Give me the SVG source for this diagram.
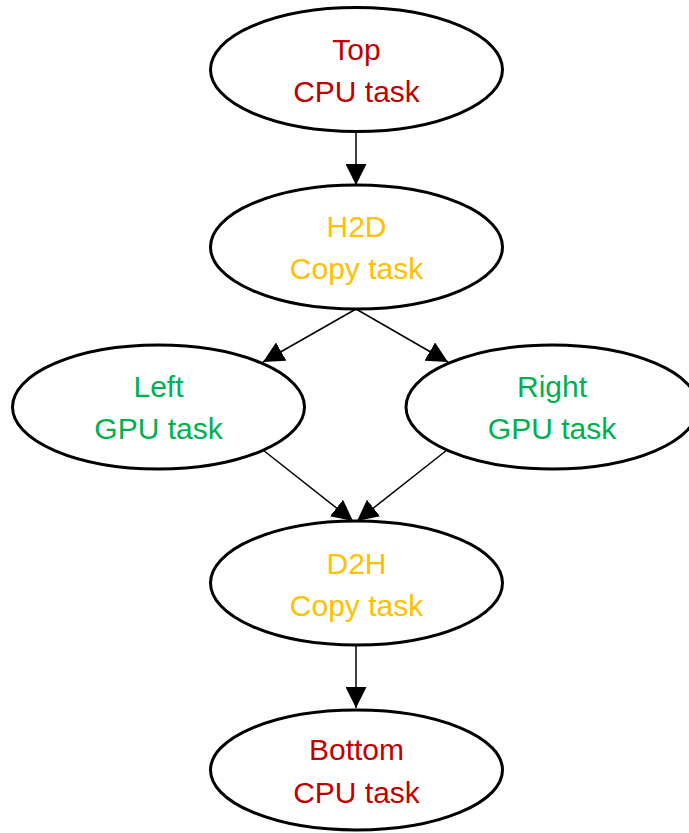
<svg xmlns="http://www.w3.org/2000/svg" width="689" height="833" viewBox="0 0 689 833">
  <style>
    .node { fill: #ffffff; stroke: #000000; stroke-width: 3; }
    .lbl { font-family: "Liberation Sans", Arial, sans-serif; font-size: 30px; text-anchor: middle; }
    .cpu { fill: #C00000; }
    .copy { fill: #FFC000; }
    .gpu { fill: #00B050; }
    .edge { stroke: #000000; stroke-width: 1.5; fill: none; marker-end: url(#arrow); }
  </style>
  <defs>
    <marker id="arrow" viewBox="0 0 10 10" refX="10" refY="5" markerUnits="userSpaceOnUse" markerWidth="21" markerHeight="21" orient="auto">
      <path d="M0,0 L10,5 L0,10 Z" fill="#000000"/>
    </marker>
  </defs>

  <g id="connectors">
    <line class="edge" x1="356" y1="132" x2="356" y2="185"/>
    <line class="edge" x1="356" y1="309" x2="263" y2="362"/>
    <line class="edge" x1="356" y1="309" x2="448" y2="362"/>
    <line class="edge" x1="263" y1="450" x2="353" y2="521"/>
    <line class="edge" x1="447" y1="450" x2="357" y2="521"/>
    <line class="edge" x1="356" y1="645" x2="356" y2="708"/>
  </g>

  <g id="top">
    <ellipse class="node" cx="356.5" cy="69.5" rx="146" ry="62"/>
    <text class="lbl cpu" x="356.5" y="60">Top</text>
    <text class="lbl cpu" x="356.5" y="102">CPU task</text>
  </g>

  <g id="h2d">
    <ellipse class="node" cx="356.5" cy="247" rx="146" ry="62"/>
    <text class="lbl copy" x="356.5" y="237">H2D</text>
    <text class="lbl copy" x="356.5" y="279">Copy task</text>
  </g>

  <g id="left">
    <ellipse class="node" cx="158.5" cy="407" rx="146" ry="62"/>
    <text class="lbl gpu" x="158.5" y="397">Left</text>
    <text class="lbl gpu" x="158.5" y="439">GPU task</text>
  </g>

  <g id="right">
    <ellipse class="node" cx="552" cy="407" rx="146" ry="62"/>
    <text class="lbl gpu" x="552" y="397">Right</text>
    <text class="lbl gpu" x="552" y="439">GPU task</text>
  </g>

  <g id="d2h">
    <ellipse class="node" cx="356.5" cy="583" rx="146" ry="62"/>
    <text class="lbl copy" x="356.5" y="574">D2H</text>
    <text class="lbl copy" x="356.5" y="616">Copy task</text>
  </g>

  <g id="bottom">
    <ellipse class="node" cx="356.5" cy="770" rx="146" ry="60"/>
    <text class="lbl cpu" x="356.5" y="760">Bottom</text>
    <text class="lbl cpu" x="356.5" y="803">CPU task</text>
  </g>
</svg>
